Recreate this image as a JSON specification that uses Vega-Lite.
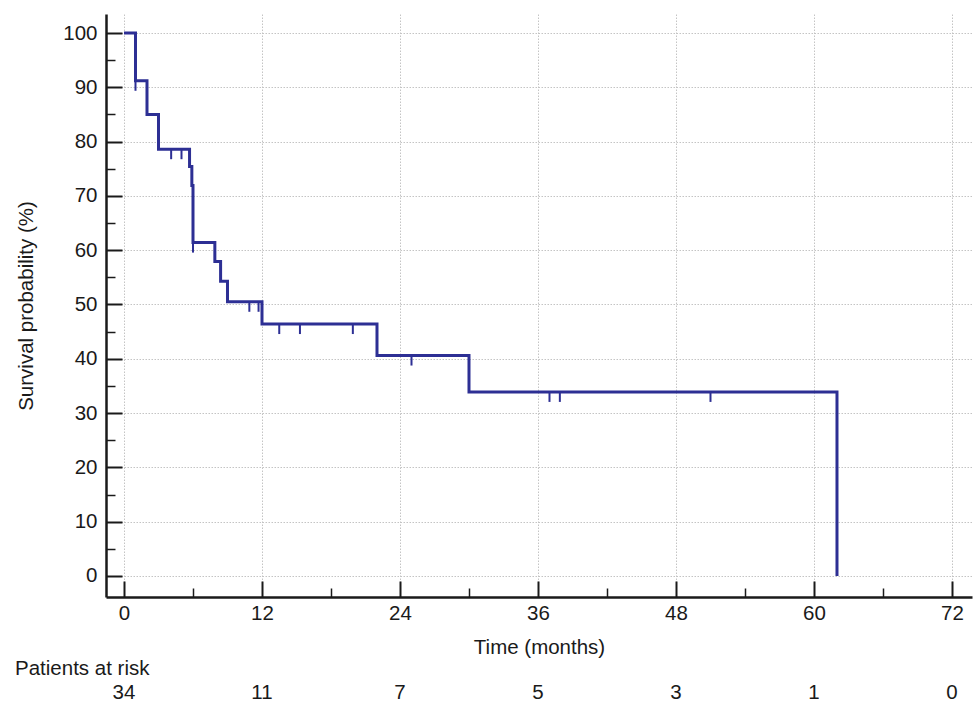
{
  "$schema": "https://vega.github.io/schema/vega-lite/v6.json",
  "background": "white",
  "padding": {"left": 15, "top": 14, "right": 5, "bottom": 0},
  "config": {
    "view": {"stroke": null},
    "font": "Liberation Sans",
    "concat": {"spacing": 0}
  },
  "datasets": {
    "curve": [
      {"t": 0, "s": 100},
      {"t": 1, "s": 91.2},
      {"t": 2, "s": 85.0},
      {"t": 3, "s": 78.6},
      {"t": 5.7, "s": 75.4},
      {"t": 5.9, "s": 71.9},
      {"t": 6.0, "s": 61.4},
      {"t": 7.9, "s": 57.9},
      {"t": 8.4, "s": 54.3},
      {"t": 9.0, "s": 50.5},
      {"t": 12.0, "s": 46.4},
      {"t": 22.0, "s": 40.6},
      {"t": 30.0, "s": 33.9},
      {"t": 62.0, "s": 0}
    ],
    "censored": [
      {"t": 1.0, "s": 91.2},
      {"t": 4.1, "s": 78.6},
      {"t": 5.0, "s": 78.6},
      {"t": 6.0, "s": 61.4},
      {"t": 10.9, "s": 50.5},
      {"t": 11.7, "s": 50.5},
      {"t": 13.5, "s": 46.4},
      {"t": 15.3, "s": 46.4},
      {"t": 19.9, "s": 46.4},
      {"t": 25.0, "s": 40.6},
      {"t": 37.0, "s": 33.9},
      {"t": 37.9, "s": 33.9},
      {"t": 51.0, "s": 33.9}
    ],
    "risk": [
      {"t": 0, "n": "34"},
      {"t": 12, "n": "11"},
      {"t": 24, "n": "7"},
      {"t": 36, "n": "5"},
      {"t": 48, "n": "3"},
      {"t": 60, "n": "1"},
      {"t": 72, "n": "0"}
    ]
  },
  "vconcat": [
    {
      "width": 866,
      "height": 583,
      "layer": [
        {
          "data": {"name": "curve"},
          "mark": {"type": "line", "interpolate": "step-after", "color": "#2d2f94", "strokeWidth": 3},
          "encoding": {
            "x": {
              "field": "t", "type": "quantitative",
              "scale": {"domain": [-1.565, 73.74], "nice": false, "zero": false},
              "axis": {
                "values": [0, 12, 24, 36, 48, 60, 72],
                "title": "Time (months)",
                "titleFontSize": 20.5, "titleFontWeight": "normal", "titleColor": "#1a1a1a", "titlePadding": 14,
                "labelFontSize": 20.5, "labelColor": "#1a1a1a", "labelPadding": 22, "labelFlush": false,
                "domainColor": "#1a1a1a", "domainWidth": 2.5,
                "tickColor": "#1a1a1a", "tickWidth": 2, "tickSize": -16,
                "grid": true, "gridColor": "#c4c4c4", "gridDash": [1.5, 1.5], "gridWidth": 1
              }
            },
            "y": {
              "field": "s", "type": "quantitative",
              "scale": {"domain": [-3.87, 103.5], "nice": false, "zero": false},
              "axis": {
                "values": [0, 10, 20, 30, 40, 50, 60, 70, 80, 90, 100],
                "title": "Survival probability (%)",
                "titleFontSize": 20.5, "titleFontWeight": "normal", "titleColor": "#1a1a1a", "titlePadding": 26,
                "labelFontSize": 20.5, "labelColor": "#1a1a1a", "labelPadding": 25,
                "domainColor": "#1a1a1a", "domainWidth": 2.5,
                "tickColor": "#1a1a1a", "tickWidth": 2, "tickSize": -16,
                "grid": true, "gridColor": "#c4c4c4", "gridDash": [1.5, 1.5], "gridWidth": 1
              }
            }
          }
        },
        {
          "data": {"name": "censored"},
          "mark": {"type": "tick", "orient": "vertical", "size": 10, "thickness": 2, "yOffset": 5, "opacity": 1, "color": "#2d2f94"},
          "encoding": {
            "x": {
              "field": "t", "type": "quantitative",
              "scale": {"domain": [-1.565, 73.74], "nice": false, "zero": false},
              "axis": {
                "orient": "bottom",
                "values": [6, 18, 30, 42, 54, 66],
                "title": null, "labels": false, "domain": false, "grid": false,
                "tickColor": "#1a1a1a", "tickWidth": 1.5, "tickSize": -9
              }
            },
            "y": {
              "field": "s", "type": "quantitative",
              "scale": {"domain": [-3.87, 103.5], "nice": false, "zero": false},
              "axis": {
                "orient": "left",
                "values": [5, 15, 25, 35, 45, 55, 65, 75, 85, 95],
                "title": null, "labels": false, "domain": false, "grid": false,
                "tickColor": "#1a1a1a", "tickWidth": 1.5, "tickSize": -9
              }
            }
          }
        }
      ],
      "resolve": {"axis": {"x": "independent", "y": "independent"}}
    },
    {
      "width": 866,
      "height": 28,
      "title": {
        "text": "Patients at risk", "anchor": "start", "dx": -91, "offset": 0,
        "fontSize": 20.5, "fontWeight": "normal", "color": "#1a1a1a", "font": "Liberation Sans"
      },
      "data": {"name": "risk"},
      "mark": {"type": "text", "fontSize": 20.5, "color": "#1a1a1a", "font": "Liberation Sans"},
      "encoding": {
        "x": {
          "field": "t", "type": "quantitative",
          "scale": {"domain": [-1.565, 73.74], "nice": false, "zero": false},
          "axis": null
        },
        "text": {"field": "n"}
      }
    }
  ]
}
